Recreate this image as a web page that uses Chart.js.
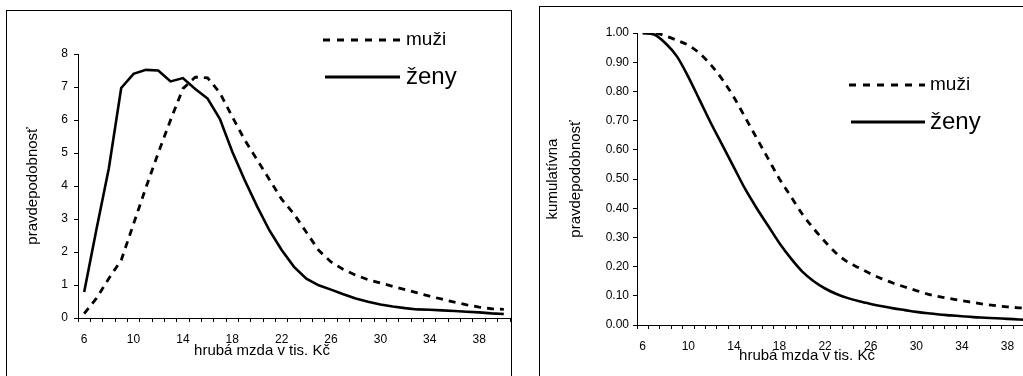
<!DOCTYPE html>
<html>
<head>
<meta charset="utf-8">
<script src="https://cdn.jsdelivr.net/npm/chart.js@4.4.1/dist/chart.umd.min.js"></script>
<style>
  html, body { margin: 0; padding: 0; background: #fff; overflow: hidden; }
  body { width: 1023px; height: 376px; position: relative; }
  canvas { position: absolute; top: 0; }
  #hustota { left: 0; }
  #kumulativ { left: 520px; }
</style>
</head>
<body>
<canvas id="hustota" width="515" height="376"></canvas>
<canvas id="kumulativ" width="530" height="376"></canvas>
<script>
// hrubá mzda v tis. Kč
const mzdy = [6, 7, 8, 9, 10, 11, 12, 13, 14, 15, 16, 17, 18, 19, 20, 21, 22, 23,
  24, 25, 26, 27, 28, 29, 30, 31, 32, 33, 34, 35, 36, 37, 38, 39, 40];
const xPopisky = [6, 10, 14, 18, 22, 26, 30, 34, 38];

// pravdepodobnosť (%)
const muziHustota = [0.13, 0.6, 1.2, 1.75, 2.85, 3.95, 5.0, 6.0, 6.95, 7.3, 7.28, 6.82,
  6.1, 5.4, 4.8, 4.2, 3.6, 3.15, 2.6, 2.05, 1.7, 1.47, 1.3, 1.16, 1.06, 0.96, 0.86,
  0.76, 0.66, 0.57, 0.48, 0.4, 0.33, 0.28, 0.26];
const zenyHustota = [0.79, 2.7, 4.54, 6.97, 7.4, 7.52, 7.5, 7.17, 7.27, 6.94, 6.65, 6.03,
  5.04, 4.18, 3.39, 2.66, 2.06, 1.55, 1.19, 0.99, 0.86, 0.72, 0.59, 0.49, 0.41, 0.35,
  0.3, 0.26, 0.25, 0.23, 0.21, 0.19, 0.17, 0.14, 0.12];

// kumulatívna pravdepodobnosť
const muziKumul = [1.0, 1.0, 0.99, 0.975, 0.958, 0.93, 0.89, 0.84, 0.78, 0.71, 0.64, 0.57,
  0.5, 0.44, 0.38, 0.33, 0.285, 0.245, 0.215, 0.195, 0.175, 0.158, 0.143, 0.13, 0.118,
  0.106, 0.097, 0.09, 0.083, 0.077, 0.071, 0.066, 0.062, 0.059, 0.057];
const zenyKumul = [1.0, 0.995, 0.965, 0.92, 0.85, 0.77, 0.69, 0.615, 0.54, 0.465, 0.4,
  0.34, 0.28, 0.228, 0.183, 0.15, 0.125, 0.106, 0.092, 0.081, 0.072, 0.064, 0.057,
  0.051, 0.045, 0.04, 0.036, 0.033, 0.03, 0.027, 0.025, 0.023, 0.021, 0.019, 0.017];

const pismo = "'Liberation Sans', Arial, sans-serif";

// ram grafu, popis osi x a legenda (muži prerušovane, ženy plnou čiarou)
function ramALegenda(ram, leg, popisX) {
  return {
    id: "ramALegenda",
    afterDraw(chart) {
      const c = chart.ctx;
      c.save();
      c.strokeStyle = "#000";
      c.lineWidth = 1;
      c.strokeRect(ram[0] + 0.5, ram[1] + 0.5, ram[2], ram[3]);

      c.lineWidth = 3;
      c.setLineDash([7, 7]);
      c.beginPath();
      c.moveTo(leg.x1, leg.y1);
      c.lineTo(leg.x2, leg.y1);
      c.stroke();
      c.setLineDash([]);
      c.beginPath();
      c.moveTo(leg.x1 + 2, leg.y2);
      c.lineTo(leg.x2, leg.y2);
      c.stroke();

      c.fillStyle = "#000";
      c.textBaseline = "middle";
      c.font = "19px " + pismo;
      c.fillText("muži", leg.tx, leg.y1);
      c.font = "24px " + pismo;
      c.fillText("ženy", leg.tx, leg.y2);

      c.font = "15px " + pismo;
      c.textAlign = "center";
      c.textBaseline = "alphabetic";
      c.fillText("hrubá mzda v tis. Kč", popisX[0], popisX[1]);
      c.restore();
    }
  };
}

function graf(id, o) {
  const ctx = document.getElementById(id).getContext("2d");
  return new Chart(ctx, {
    type: "line",
    data: {
      labels: mzdy,
      datasets: [
        { label: "muži", data: o.muzi, borderColor: "#000", borderWidth: 2.8,
          borderDash: [7, 6], pointRadius: 0, tension: o.tension,
          cubicInterpolationMode: o.tension ? "monotone" : "default" },
        { label: "ženy", data: o.zeny, borderColor: "#000", borderWidth: 2.6,
          pointRadius: 0, tension: o.tension,
          cubicInterpolationMode: o.tension ? "monotone" : "default" }
      ]
    },
    options: {
      responsive: false,
      animation: false,
      devicePixelRatio: 1,
      layout: { padding: { left: 0, top: o.top, right: o.right, bottom: 0 } },
      plugins: { legend: { display: false }, tooltip: { enabled: false } },
      scales: {
        x: {
          offset: true,
          grid: { offset: true, drawOnChartArea: false, drawTicks: true, tickLength: 4, color: "#000" },
          border: { display: true, color: "#000", width: 1 },
          ticks: {
            autoSkip: false, maxRotation: 0, padding: o.xPad, color: "#000",
            font: { family: pismo, size: 12 },
            callback: function (v) {
              const m = mzdy[v];
              return xPopisky.includes(m) ? String(m) : "";
            }
          },
          afterFit: s => { s.height = o.xH; }
        },
        y: {
          min: 0, max: o.max,
          grid: { drawOnChartArea: false, drawTicks: true, tickLength: 4, color: "#000" },
          border: { display: true, color: "#000", width: 1 },
          ticks: {
            stepSize: o.step, padding: o.yPad, color: "#000",
            font: { family: pismo, size: 12 },
            callback: v => o.dec ? v.toFixed(2) : v
          },
          title: { display: true, text: o.yTitle, color: "#000",
            font: { family: pismo, size: 15, lineHeight: 1.5 }, padding: { top: o.yTitlePad, bottom: 0 } },
          afterFit: s => { s.width = o.yW; }
        }
      }
    },
    plugins: [ramALegenda(o.ram, o.leg, o.popisX)]
  });
}

graf("hustota", {
  muzi: muziHustota, zeny: zenyHustota, tension: 0,
  max: 8, step: 1, dec: false, yPad: 6,
  yTitle: "pravdepodobnosť", yTitlePad: 22, yW: 78,
  top: 54, right: 5, xH: 58, xPad: 10,
  popisX: [262, 355],
  ram: [6, 10, 505, 400],
  leg: { x1: 323, x2: 400, y1: 40, y2: 77, tx: 406 }
});

graf("kumulativ", {
  muzi: muziKumul, zeny: zenyKumul, tension: 0.4,
  max: 1, step: 0.1, dec: true, yPad: 4,
  yTitle: ["kumulatívna", "pravdepodobnosť"], yTitlePad: 22, yW: 117,
  top: 33, right: 14, xH: 51, xPad: 10,
  popisX: [287, 360],
  ram: [19, 6, 600, 400],
  leg: { x1: 329, x2: 405, y1: 85, y2: 122, tx: 410 }
});
</script>
</body>
</html>
